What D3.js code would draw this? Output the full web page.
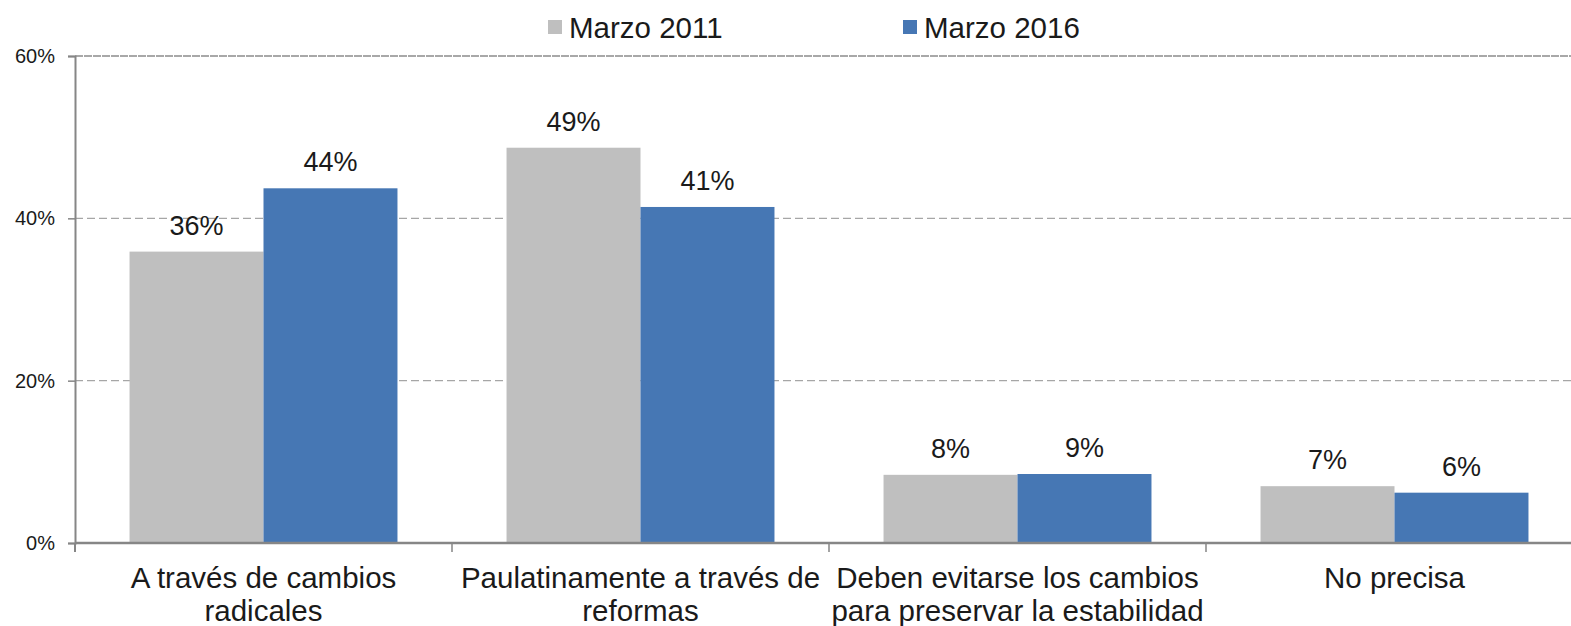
<!DOCTYPE html>
<html>
<head>
<meta charset="utf-8">
<script src="https://cdn.jsdelivr.net/npm/d3@7"></script>
<style>
  body { margin: 0; background: #fff; }
  text { font-family: "Liberation Sans", Arial, sans-serif; fill: #1a1a1a; }
</style>
</head>
<body>
<script>
// data
const categories = [
  ["A través de cambios", "radicales"],
  ["Paulatinamente a través de", "reformas"],
  ["Deben evitarse los cambios", "para preservar la estabilidad"],
  ["No precisa"]
];
const seriesNames = ["Marzo 2011", "Marzo 2016"];
const marzo2011 = [35.9, 48.7, 8.4, 7.0];
const marzo2016 = [43.7, 41.4, 8.5, 6.2];
const labels2011 = ["36%", "49%", "8%", "7%"];
const labels2016 = ["44%", "41%", "9%", "6%"];
const yTicks = [0, 20, 40, 60];
const colors = ["#bfbfbf", "#4677b4"];

const width = 1571, height = 626;
const plotLeft = 75, plotTop = 56, plotBottom = 543;
const step = 377;

const svg = d3.select("body").append("svg")
  .attr("width", width).attr("height", height);

const catIdx = categories.map((c, i) => i);
const x = d3.scaleBand().domain(catIdx).range([plotLeft, plotLeft + step * categories.length]);
const x1 = d3.scaleBand().domain([0, 1]).range([0, x.bandwidth()]).paddingInner(0).paddingOuter(0.407);
const y = d3.scaleLinear().domain([0, 60]).range([plotBottom, plotTop]);

// gridlines
svg.append("g").selectAll("line").data(yTicks.filter(t => t > 0)).join("line")
  .attr("x1", plotLeft).attr("x2", width)
  .attr("y1", d => y(d)).attr("y2", d => y(d))
  .attr("stroke", d => d === 60 ? "#8c8c8c" : "#a6a6a6")
  .attr("stroke-width", 1.3)
  .attr("stroke-dasharray", d => d === 60 ? "8,1" : "8,4");

// bars
const rows = catIdx.map(i => [marzo2011[i], marzo2016[i]]);
const labs = catIdx.map(i => [labels2011[i], labels2016[i]]);
const groups = svg.append("g").selectAll("g").data(rows).join("g")
  .attr("transform", (d, i) => `translate(${x(i)},0)`);
groups.selectAll("rect").data(d => d).join("rect")
  .attr("x", (d, j) => x1(j)).attr("width", x1.bandwidth())
  .attr("y", d => y(d)).attr("height", d => plotBottom - y(d))
  .attr("fill", (d, j) => colors[j]);
groups.selectAll("text").data((d, i) => d.map((v, j) => ({v, t: labs[i][j]}))).join("text")
  .attr("x", (d, j) => x1(j) + x1.bandwidth() / 2)
  .attr("y", d => y(d.v) - 17)
  .attr("text-anchor", "middle").attr("font-size", 27)
  .text(d => d.t);

// y axis
const yAxis = svg.append("g").attr("transform", `translate(${plotLeft},0)`)
  .call(d3.axisLeft(y).tickValues(yTicks).tickFormat(d => d + "%").tickSize(7).tickPadding(13));
yAxis.select(".domain").attr("stroke", "#868686").attr("stroke-width", 2);
yAxis.selectAll(".tick line").attr("stroke", "#868686").attr("stroke-width", 1.5);
yAxis.selectAll(".tick text").attr("font-size", 20).attr("fill", "#1a1a1a")
  .style("font-family", "'Liberation Sans', Arial, sans-serif");

// x axis
const xAxis = svg.append("g").attr("transform", `translate(0,${plotBottom})`);
xAxis.append("line").attr("x1", plotLeft).attr("x2", width).attr("y1", 0).attr("y2", 0)
  .attr("stroke", "#868686").attr("stroke-width", 2.5);
xAxis.selectAll("line.tk").data(catIdx.concat([categories.length])).join("line")
  .attr("class", "tk")
  .attr("x1", i => plotLeft + step * i).attr("x2", i => plotLeft + step * i)
  .attr("y1", 0).attr("y2", 9)
  .attr("stroke", "#868686").attr("stroke-width", i => i === 0 ? 2 : 1.5);
xAxis.selectAll("text").data(categories).join("text")
  .attr("x", (d, i) => x(i) + x.bandwidth() / 2)
  .attr("y", 45)
  .attr("text-anchor", "middle").attr("font-size", 29.5)
  .selectAll("tspan").data(d => d).join("tspan")
  .attr("x", function() { return this.parentNode.getAttribute("x"); })
  .attr("dy", (d, k) => k === 0 ? 0 : 33)
  .text(d => d);

// legend
const legendX = [548, 903];
const legend = svg.append("g").selectAll("g").data(seriesNames).join("g")
  .attr("transform", (d, i) => `translate(${legendX[i]},0)`);
legend.append("rect").attr("x", 0).attr("y", 20).attr("width", 14).attr("height", 14)
  .attr("fill", (d, i) => colors[i]);
legend.append("text").attr("x", 21).attr("y", 38).attr("font-size", 29.5).text(d => d);
</script>
</body>
</html>
